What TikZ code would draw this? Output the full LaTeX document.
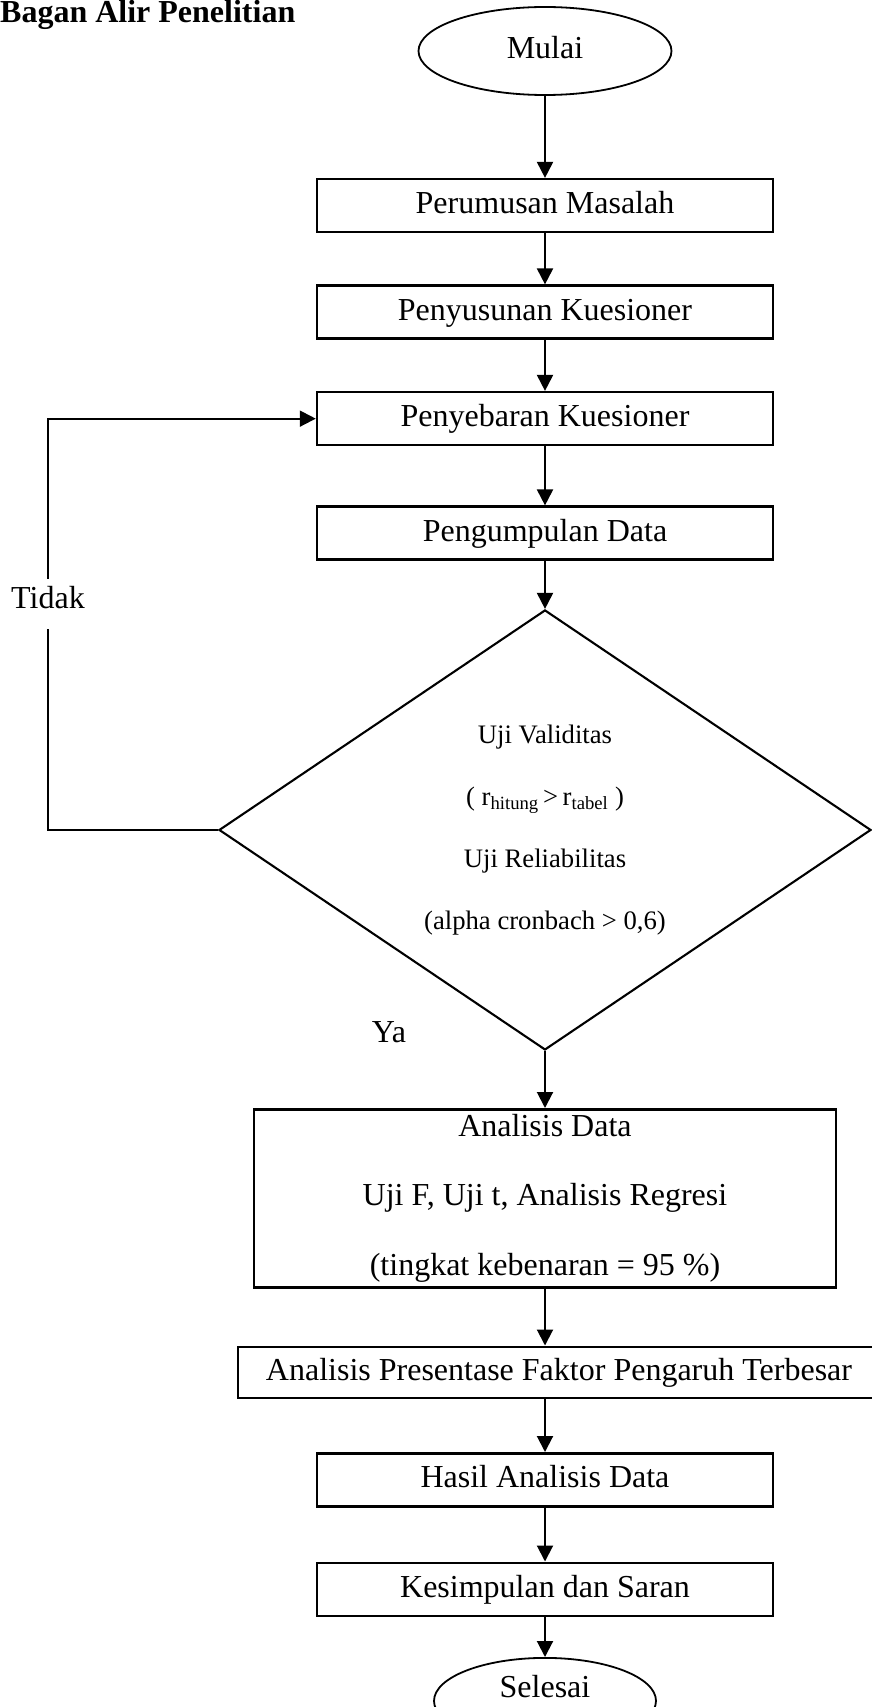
\documentclass[tikz,border=0pt]{standalone}
\usepackage{fontspec}
\setmainfont{Liberation Serif}
\usepackage{tikz}
\usetikzlibrary{arrows.meta,positioning,shapes.geometric}
\definecolor{ink}{RGB}{0,0,0}
\tikzset{
  term/.style ={ellipse, draw=ink, line width=1.8pt, minimum width=253pt,
                 minimum height=88pt, inner sep=0pt, text height=22pt, text depth=6pt,
                 font=\fontsize{32pt}{38pt}\selectfont},
  proc/.style ={rectangle, draw=ink, line width=2.5pt, minimum width=456pt,
                 minimum height=53pt, inner sep=0pt, text height=22pt, text depth=6pt,
                 font=\fontsize{32pt}{38pt}\selectfont},
  big/.style  ={rectangle, draw=ink, line width=2.5pt, minimum width=582pt,
                 minimum height=178pt, inner sep=0pt, align=center,
                 font=\fontsize{32pt}{69.5pt}\selectfont},
  dec/.style  ={diamond, draw=ink, line width=2.1pt, aspect=1.5, minimum width=652pt,
                 minimum height=440pt, inner sep=0pt, align=center,
                 font=\fontsize{26.67pt}{62pt}\selectfont},
  ln/.style   ={line width=2pt, draw=ink},
  arr/.style  ={ln, -{Triangle[length=16pt,width=16pt]}},
  lbl/.style  ={font=\fontsize{32pt}{38pt}\selectfont, inner sep=0pt},
}
\begin{document}
\begin{tikzpicture}[x=1pt, y=-1pt, node distance=50pt]
\useasboundingbox (0,0) rectangle (871,1707);
\node[lbl, anchor=base west, font=\fontsize{32pt}{38pt}\selectfont\bfseries] (judul) at (0,23)
   {Bagan Alir Penelitian};
\node[term] (mulai) at (545,51) {Mulai};
\node[proc, below=82pt of mulai] (rumus) {Perumusan Masalah};
\node[proc, below=51pt of rumus] (susun) {Penyusunan Kuesioner};
\node[proc, below=51pt of susun] (sebar) {Penyebaran Kuesioner};
\node[proc, below=59pt of sebar] (kumpul) {Pengumpulan Data};
\node[dec, below=48pt of kumpul] (uji) {Uji Validitas\\
   ( r\textsubscript{hitung}\,>\,r\textsubscript{tabel} )\\
   Uji Reliabilitas\\
   (alpha cronbach > 0,6)};
\node[big, below=57pt of uji] (analisis) {Analisis Data\\
   Uji F, Uji t, Analisis Regresi\\
   (tingkat kebenaran = 95 \%)};
\node[proc, below=57pt of analisis, xshift=14pt, minimum width=642pt,
   minimum height=51pt] (persen) {Analisis Presentase Faktor Pengaruh Terbesar};
\node[proc, below=53pt of persen, xshift=-14pt] (hasil) {Hasil Analisis Data};
\node[proc, below=54pt of hasil] (simpul) {Kesimpulan dan Saran};
\node[term, below=40pt of simpul, minimum width=222pt, minimum height=86pt,
   text depth=28pt] (selesai) {Selesai};
\node[lbl, text height=22pt, text depth=14pt, inner sep=7pt] (tidak) at (48,604) {Tidak};
\node[lbl] (ya) at (389,1032) {Ya};
\foreach \a/\b in {mulai/rumus, rumus/susun, susun/sebar, sebar/kumpul, kumpul/uji,
                   uji/analisis, analisis/persen, persen/hasil, hasil/simpul, simpul/selesai}
  \draw[arr] (\a.south -| mulai) -- (\b.north -| mulai);
\draw[ln] (uji.west) -| (tidak);
\draw[arr] (tidak) |- (sebar.west);
\end{tikzpicture}
\end{document}
